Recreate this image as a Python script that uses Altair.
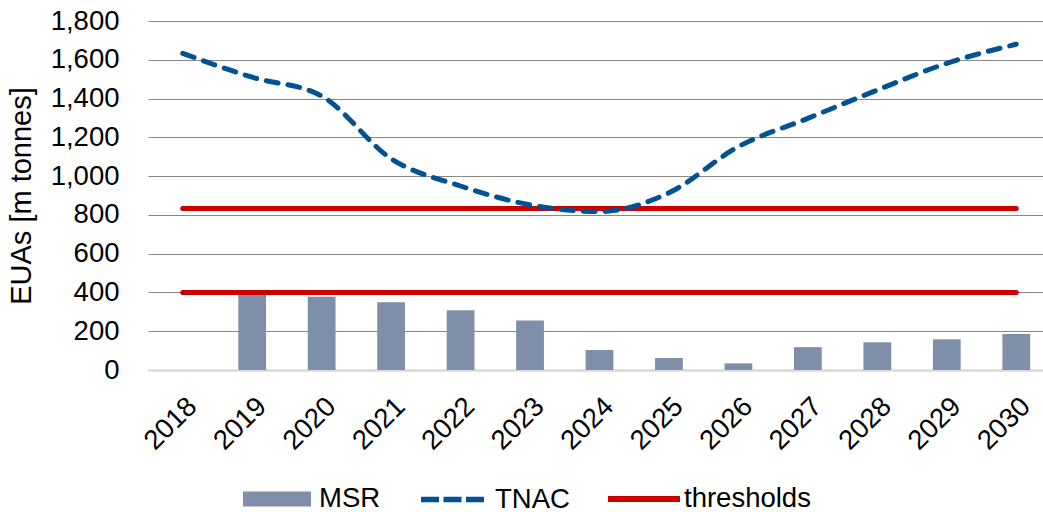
import altair as alt
import pandas as pd

years = [str(y) for y in range(2018, 2031)]
msr = [0, 388, 378, 350, 308, 255, 103, 62, 34, 118, 143, 158, 186]
tnac = [1633, 1510, 1413, 1090, 949, 852, 817, 914, 1152, 1298, 1444, 1582, 1680]
upper_threshold = 833
lower_threshold = 400
y_ticks = [0, 200, 400, 600, 800, 1000, 1200, 1400, 1600, 1800]

MSR_COLOR = "#7F8FA9"
TNAC_COLOR = "#005293"
THR_COLOR = "#CC0000"

FONT = "Liberation Sans"

bar_df = pd.DataFrame({"year": years, "value": msr, "series": "MSR"})
tnac_df = pd.DataFrame({"year": years, "value": tnac, "series": "TNAC"})
thr_df = pd.DataFrame({
    "year": years + years,
    "value": [upper_threshold] * len(years) + [lower_threshold] * len(years),
    "series": "thresholds",
    "level": ["upper"] * len(years) + ["lower"] * len(years),
})

common_legend = dict(orient="none", direction="horizontal", title=None,
                     labelFontSize=27.5, labelFont=FONT, labelColor="black",
                     labelLimit=300, padding=0, symbolOpacity=1)

msr_legend = alt.Legend(legendX=95, legendY=444, symbolType="M-1,-0.22H1V0.22H-1Z",
                        symbolSize=68 * 68, symbolStrokeWidth=0, labelOffset=8,
                        **common_legend)
tnac_legend = alt.Legend(legendX=270, legendY=444, symbolType="stroke",
                         symbolSize=63 * 63, symbolStrokeWidth=5.5,
                         symbolDash=[18, 4.5], labelOffset=8, **common_legend)
thr_legend = alt.Legend(legendX=457, legendY=439, symbolType="stroke",
                        symbolSize=72 * 72, symbolStrokeWidth=6,
                        labelOffset=1, **common_legend)

x = alt.X("year:N", title=None,
          scale=alt.Scale(paddingInner=0.6, paddingOuter=0.3, range=[0, 903]),
          axis=alt.Axis(labelAngle=-45, labelFontSize=27.5, labelFont=FONT,
                        labelColor="black", ticks=False, grid=False,
                        labelAlign="right", labelBaseline="top",
                        domainColor="#d9d9d9", domainWidth=2,
                        labelPadding=22))
y = alt.Y("value:Q", title="EUAs [m tonnes]",
          scale=alt.Scale(domain=[0, 1800], nice=False),
          axis=alt.Axis(values=y_ticks, format=",.0f", labelFontSize=27.5,
                        labelFont=FONT, labelColor="black", labelPadding=29,
                        labelFlush=False, ticks=False, domain=False,
                        titleFontSize=29, titleFont=FONT,
                        titleFontWeight="normal", titleColor="black",
                        titlePadding=14,
                        gridColor={"condition": {"test": "datum.value === 0", "value": "#d9d9d9"},
                                   "value": "#888888"},
                        gridWidth={"condition": {"test": "datum.value === 0", "value": 2},
                                   "value": 1}))

bars = alt.Chart(bar_df).mark_bar().encode(
    x=x, y=y,
    fill=alt.Fill("series:N", scale=alt.Scale(domain=["MSR"], range=[MSR_COLOR]),
                  legend=msr_legend),
)
tnac_line = alt.Chart(tnac_df).mark_line(
    strokeWidth=5, strokeDash=[12, 10], strokeCap="round", interpolate="monotone"
).encode(
    x=x, y=y,
    stroke=alt.Stroke("series:N", scale=alt.Scale(domain=["TNAC"], range=[TNAC_COLOR]),
                      legend=tnac_legend),
)
thr_lines = alt.Chart(thr_df).mark_line(
    strokeWidth=5, strokeCap="round"
).encode(
    x=x, y=y, detail="level:N",
    color=alt.Color("series:N", scale=alt.Scale(domain=["thresholds"], range=[THR_COLOR]),
                    legend=thr_legend),
)

chart = alt.layer(bars, thr_lines, tnac_line).resolve_scale(
    color="independent", fill="independent", stroke="independent"
).properties(
    width=895, height=349,
    autosize=alt.AutoSizeParams(type="none"),
    padding={"left": 148, "top": 21, "right": 0, "bottom": 142},
).configure_view(stroke=None)

chart.save("out.html", embed_options={"renderer": "svg", "actions": False})
